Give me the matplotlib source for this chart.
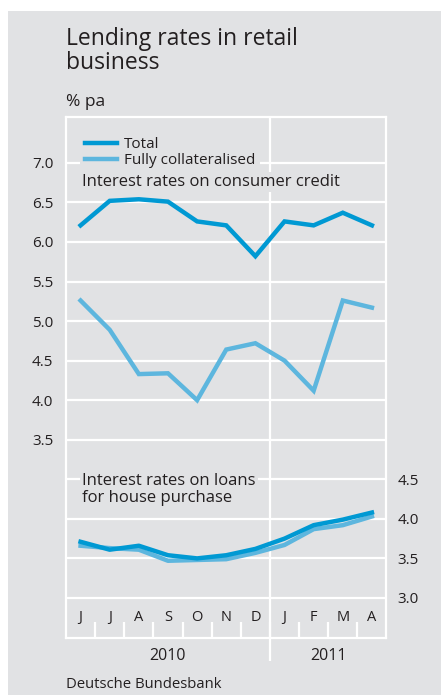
import matplotlib.pyplot as plt
from matplotlib.lines import Line2D
from matplotlib.patches import Rectangle

plt.rcParams['font.family'] = ['Open Sans', 'DejaVu Sans']

# data
months = ['J', 'J', 'A', 'S', 'O', 'N', 'D', 'J', 'F', 'M', 'A']
years = ['2010', '2011']
consumer_total = [6.21, 6.52, 6.54, 6.51, 6.26, 6.21, 5.82, 6.26, 6.21, 6.37, 6.21]
consumer_coll = [5.26, 4.89, 4.33, 4.34, 4.00, 4.64, 4.72, 4.50, 4.12, 5.26, 5.17]
house_total = [3.71, 3.61, 3.66, 3.54, 3.50, 3.54, 3.62, 3.75, 3.92, 3.99, 4.08]
house_coll = [3.66, 3.63, 3.61, 3.47, 3.48, 3.49, 3.57, 3.67, 3.87, 3.92, 4.03]
left_ticks = [3.5, 4.0, 4.5, 5.0, 5.5, 6.0, 6.5, 7.0]
right_ticks = [3.0, 3.5, 4.0, 4.5]
offset = 1.5  # right scale = left scale + 1.5

bg = '#e1e2e4'
c_total = '#0099d3'
c_coll = '#5db6de'
txt = '#231f20'

fig = plt.figure(figsize=(4.41, 6.95), dpi=100)
fig.patches.append(Rectangle((8/441, 0), 1, 1 - 11/695, transform=fig.transFigure,
                             facecolor=bg, edgecolor='none', zorder=-10))

ax = fig.add_axes([66/441, 1 - 637.5/695, 320.5/441, 520.5/695])
ax.set_facecolor(bg)
x = list(range(len(months)))
ax.set_xlim(-0.5, len(months) - 0.5)
ax.set_ylim(1.0, 7.58)

for s in ax.spines.values():
    s.set_color('white')
    s.set_linewidth(1.6)

# gridlines
grid_vals = [1.5 + 0.5 * i for i in range(12)]
ax.hlines(grid_vals, -0.5, len(months) - 0.5, color='white', lw=1.6, zorder=1)
# month boundary ticks
ax.vlines([i + 0.5 for i in range(len(months) - 1)], 1.0, 1.2, color='white', lw=1.6, zorder=1)
# year separator
ax.vlines([6.5], 0.7, 7.58, color='white', lw=1.6, zorder=1, clip_on=False)

ax.plot(x, consumer_total, color=c_total, lw=3.2, zorder=4, solid_joinstyle='miter')
ax.plot(x, consumer_coll, color=c_coll, lw=3.2, zorder=4, solid_joinstyle='miter')
ax.plot(x, [v - offset for v in house_coll], color=c_coll, lw=3.2, zorder=4)
ax.plot(x, [v - offset for v in house_total], color=c_total, lw=3.2, zorder=5)

ax.set_xticks([])
ax.set_yticks(left_ticks)
ax.set_yticklabels([f'{v:.1f}' for v in left_ticks], fontsize=11, color=txt)
ax.tick_params(axis='y', length=0, pad=9)

sec = ax.secondary_yaxis('right', functions=(lambda y: y + offset, lambda y: y - offset))
sec.set_yticks(right_ticks)
sec.set_yticklabels([f'{v:.1f}' for v in right_ticks], fontsize=11, color=txt)
sec.tick_params(length=0, pad=8)
sec.spines['right'].set_visible(False)

for i, m in enumerate(months):
    ax.text(i, 1.25, m, ha='center', va='center', fontsize=10.5, color=txt)
ax.text(3, 0.77, years[0], ha='center', va='center', fontsize=11.5, color=txt)
ax.text(8.5, 0.77, years[1], ha='center', va='center', fontsize=11.5, color=txt)

# legend
handles = [Line2D([], [], color=c_total, lw=3.2), Line2D([], [], color=c_coll, lw=3.2)]
leg = ax.legend(handles, ['Total', 'Fully collateralised'], loc='upper left',
                bbox_to_anchor=(0.02, 0.985), frameon=True, facecolor=bg, edgecolor='none',
                framealpha=1, fontsize=11, handlelength=2.15, handletextpad=0.4,
                labelspacing=0.08, borderpad=0.3, labelcolor=txt)
leg.set_zorder(3)

box = dict(facecolor=bg, edgecolor='none', pad=1.5)
ax.text(0.05, 6.76, 'Interest rates on consumer credit', fontsize=12, color=txt,
        va='center', ha='left', bbox=box, zorder=3)
ax.text(0.05, 2.87, 'Interest rates on loans\nfor house purchase', fontsize=12, color=txt,
        va='center', ha='left', bbox=box, zorder=3, linespacing=1.1)

fig.text(66/441, 1 - 27/695, 'Lending rates in retail\nbusiness', fontsize=16.5, color=txt,
         va='top', ha='left', linespacing=1.02)
fig.text(66/441, 1 - 102/695, '% pa', fontsize=12.5, color=txt, va='center', ha='left')
fig.text(66/441, 1 - 685/695, 'Deutsche Bundesbank', fontsize=10.7, color=txt, va='center', ha='left')

fig.savefig('out.png', dpi=100, facecolor='white')
